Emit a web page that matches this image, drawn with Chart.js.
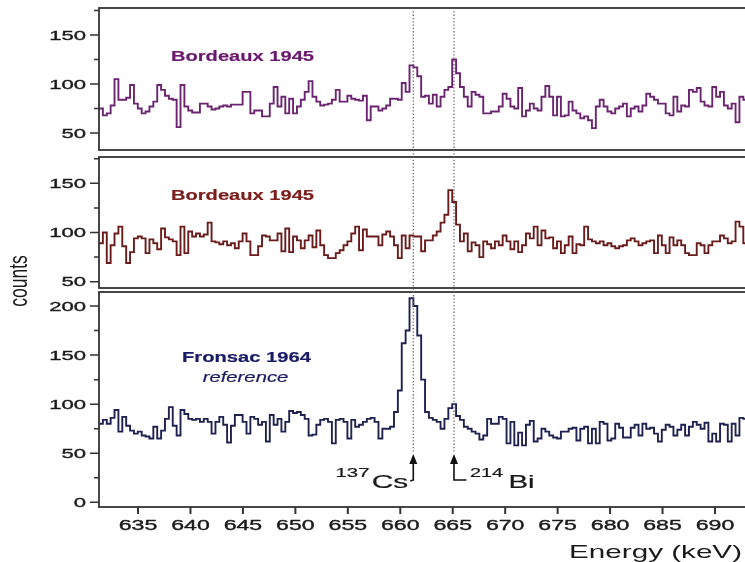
<!DOCTYPE html>
<html>
<head>
<meta charset="utf-8">
<script src="https://cdn.jsdelivr.net/npm/chart.js@4.4.0/dist/chart.umd.min.js"></script>
<style>
  html, body { margin: 0; padding: 0; background: #fff; overflow: hidden; width: 745px; height: 562px; }
  canvas { position: absolute; left: 0; top: 0; }
</style>
</head>
<body>
<canvas id="panelTop" width="760" height="562"></canvas>
<canvas id="panelMid" width="760" height="562"></canvas>
<canvas id="panelBot" width="760" height="562"></canvas>
<script>
// bins of the gamma spectra (keV)
const binStart = 631.28;
const binWidth = 0.37;

// counts per bin, Bordeaux 1945 (first measurement)
const bordeauxA = [
  75, 68, 70, 78, 105, 84, 84, 86, 99, 80,
  75, 70, 72, 77, 82, 99, 94, 88, 85, 84,
  56, 99, 77, 73, 71, 71, 80, 80, 77, 74,
  75, 77, 78, 77, 79, 79, 79, 92, 92, 70,
  73, 73, 67, 67, 80, 97, 77, 87, 70, 85,
  70, 77, 84, 92, 103, 87, 82, 78, 79, 80,
  84, 94, 82, 82, 88, 85, 84, 83, 88, 63,
  77, 77, 73, 75, 78, 85, 85, 84, 101, 92,
  119, 117, 108, 87, 88, 80, 89, 77, 87, 94,
  97, 125, 111, 97, 87, 77, 92, 89, 87, 70,
  70, 72, 72, 77, 90, 85, 77, 75, 96, 67,
  73, 80, 75, 73, 87, 98, 87, 68, 87, 67,
  68, 82, 73, 70, 65, 67, 63, 55, 77, 84,
  77, 72, 70, 75, 77, 80, 67, 75, 77, 72,
  78, 90, 87, 84, 80, 80, 70, 68, 87, 72,
  78, 77, 94, 92, 96, 82, 78, 77, 97, 87,
  92, 78, 75, 80, 61, 87, 84
];

// counts per bin, Bordeaux 1945 (second measurement)
const bordeauxB = [
  89, 100, 69, 87, 99, 106, 86, 69, 80, 94,
  96, 94, 79, 93, 89, 83, 104, 95, 93, 91,
  77, 106, 79, 101, 96, 99, 96, 98, 110, 91,
  90, 88, 91, 87, 89, 84, 91, 99, 91, 77,
  77, 86, 97, 96, 92, 92, 99, 81, 104, 80,
  96, 92, 84, 92, 97, 85, 102, 87, 77, 74,
  74, 79, 82, 87, 91, 99, 106, 82, 103, 96,
  96, 96, 87, 98, 101, 96, 87, 74, 97, 84,
  97, 96, 96, 81, 92, 92, 97, 101, 110, 118,
  143, 131, 108, 91, 99, 81, 90, 87, 75, 91,
  88, 84, 91, 87, 97, 91, 83, 91, 80, 87,
  99, 94, 106, 87, 102, 94, 95, 84, 91, 79,
  87, 96, 79, 88, 87, 106, 93, 91, 89, 91,
  87, 89, 86, 84, 86, 87, 92, 94, 91, 87,
  89, 91, 92, 79, 97, 87, 79, 95, 87, 92,
  87, 79, 77, 77, 89, 87, 79, 87, 91, 91,
  97, 94, 89, 91, 111, 106, 89
];

// counts per bin, Fronsac 1964 reference
const fronsac = [
  80, 84, 80, 86, 94, 72, 87, 78, 73, 70,
  72, 68, 67, 65, 77, 65, 73, 85, 97, 78,
  68, 94, 90, 85, 84, 85, 82, 85, 82, 70,
  82, 87, 79, 61, 78, 89, 89, 82, 70, 87,
  85, 79, 82, 62, 89, 79, 85, 72, 82, 93,
  91, 92, 89, 85, 68, 69, 79, 84, 85, 82,
  60, 84, 85, 82, 65, 84, 77, 79, 82, 85,
  86, 82, 65, 75, 75, 77, 92, 114, 162, 175,
  208, 200, 170, 125, 92, 86, 84, 82, 75, 85,
  96, 100, 88, 84, 77, 75, 72, 70, 64, 68,
  85, 80, 80, 87, 85, 60, 82, 58, 71, 58,
  79, 83, 62, 65, 75, 72, 68, 66, 65, 72,
  72, 75, 76, 63, 75, 77, 60, 75, 60, 82,
  80, 63, 65, 80, 76, 66, 66, 76, 79, 68,
  80, 75, 76, 70, 62, 74, 79, 77, 68, 74,
  79, 68, 77, 82, 79, 75, 81, 62, 70, 62,
  80, 79, 62, 80, 68, 86, 85
];

// axis ticks
const xTicks = [635, 640, 645, 650, 655, 660, 665, 670, 675, 680, 685, 690];
const yTicksTop = [50, 100, 150];
const yMinorTop = [75, 125, 175];
const yTicksMid = [50, 100, 150];
const yMinorMid = [75, 125, 175];
const yTicksBot = [0, 50, 100, 150, 200];
const yMinorBot = [25, 75, 125, 175];

// peak markers
const csEnergy = 661.24;
const biEnergy = 665.12;

const xMin = 631.28;
const xMax = 694.29;
const axisColor = '#333';
const textColor = '#1a1a1a';
const fontName = '"Liberation Sans", Arial, sans-serif';

function toSteps(values) {
  var pts = values.map(function(v, i) { return { x: binStart + i * binWidth, y: v }; });
  pts.push({ x: binStart + values.length * binWidth, y: values[values.length - 1] });
  return pts;
}

// text drawn with a horizontal stretch factor, slightly outlined to look heavier
function wideText(ctx, str, x, y, font, color, sx, align, weight) {
  ctx.save();
  ctx.font = font;
  ctx.fillStyle = color;
  ctx.strokeStyle = color;
  ctx.textAlign = align || 'left';
  ctx.textBaseline = 'alphabetic';
  ctx.translate(x, y);
  ctx.scale(sx, 1);
  ctx.fillText(str, 0, 0);
  if (weight !== 0) {
    ctx.lineWidth = weight || 0.35;
    ctx.strokeText(str, 0, 0);
  }
  ctx.restore();
}

const panelDecor = {
  id: 'panelDecor',
  afterDraw: function(chart, args, opts) {
    var ctx = chart.ctx;
    var area = chart.chartArea;
    var ys = chart.scales.y;

    // frame
    ctx.save();
    ctx.strokeStyle = axisColor;
    ctx.lineWidth = 1.8;
    ctx.strokeRect(area.left, area.top, area.right - area.left, area.bottom - area.top);

    // y ticks
    ctx.lineWidth = 1.5;
    ctx.beginPath();
    opts.majors.forEach(function(v) {
      var py = ys.getPixelForValue(v);
      ctx.moveTo(area.left - 9, py);
      ctx.lineTo(area.left, py);
    });
    opts.minors.forEach(function(v) {
      var py = ys.getPixelForValue(v);
      ctx.moveTo(area.left - 5, py);
      ctx.lineTo(area.left, py);
    });
    ctx.stroke();
    ctx.restore();

    opts.majors.forEach(function(v) {
      var py = ys.getPixelForValue(v);
      wideText(ctx, String(v), 86, py + 4.7, '13px ' + fontName, textColor, 1.7, 'right');
    });

    // panel titles
    opts.titles.forEach(function(t) {
      wideText(ctx, t.text, t.x, t.y, t.font + ' ' + fontName, t.color, t.sx, 'center', 0.2);
    });

    if (opts.bottom) drawBottomExtras(chart);
  }
};

function drawBottomExtras(chart) {
  var ctx = chart.ctx;
  var area = chart.chartArea;
  var xs = chart.scales.x;

  // x ticks and labels
  ctx.save();
  ctx.strokeStyle = axisColor;
  ctx.lineWidth = 2;
  ctx.beginPath();
  xTicks.forEach(function(v) {
    var px = xs.getPixelForValue(v);
    ctx.moveTo(px, area.bottom);
    ctx.lineTo(px, area.bottom + 7);
  });
  ctx.stroke();
  ctx.restore();
  xTicks.forEach(function(v) {
    wideText(ctx, String(v), xs.getPixelForValue(v), 529.5, '14px ' + fontName, textColor, 1.65, 'center');
  });

  wideText(ctx, 'Energy (keV)', 742, 558, '19px ' + fontName, textColor, 1.56, 'right', 0);

  // y axis title
  ctx.save();
  ctx.translate(20, 281);
  ctx.rotate(-Math.PI / 2);
  ctx.scale(1, 1.45);
  ctx.font = '17.5px ' + fontName;
  ctx.fillStyle = textColor;
  ctx.textAlign = 'center';
  ctx.textBaseline = 'middle';
  ctx.fillText('counts', 0, 0);
  ctx.restore();

  // dotted peak lines through all panels
  var csX = xs.getPixelForValue(csEnergy);
  var biX = xs.getPixelForValue(biEnergy);
  ctx.save();
  ctx.strokeStyle = '#666';
  ctx.lineWidth = 1.3;
  ctx.setLineDash([1.3, 2]);
  ctx.beginPath();
  ctx.moveTo(csX, 8); ctx.lineTo(csX, 452);
  ctx.moveTo(biX, 8); ctx.lineTo(biX, 452);
  ctx.stroke();
  ctx.restore();

  // arrows
  ctx.save();
  ctx.strokeStyle = '#111';
  ctx.fillStyle = '#111';
  ctx.lineWidth = 1.6;
  [csX, biX].forEach(function(px) {
    ctx.beginPath();
    ctx.moveTo(px, 454);
    ctx.lineTo(px - 4, 464);
    ctx.lineTo(px + 4, 464);
    ctx.closePath();
    ctx.fill();
  });
  ctx.beginPath();
  ctx.moveTo(csX, 462); ctx.lineTo(csX, 480); ctx.lineTo(csX - 3, 481);
  ctx.moveTo(biX, 462); ctx.lineTo(biX, 480); ctx.lineTo(biX + 12.5, 480);
  ctx.stroke();
  ctx.restore();

  // isotope labels
  wideText(ctx, '137', 352.5, 477, '12px ' + fontName, textColor, 1.7, 'center', 0.2);
  wideText(ctx, 'Cs', 390, 488, '19px ' + fontName, textColor, 1.57, 'center', 0.2);
  wideText(ctx, '214', 486.5, 477, '12px ' + fontName, textColor, 1.65, 'center', 0.2);
  wideText(ctx, 'Bi', 521.5, 488, '19px ' + fontName, textColor, 1.55, 'center', 0.2);
}

function makePanel(canvasId, values, color, yMin, yMax, padTop, padBottom, decor) {
  return new Chart(document.getElementById(canvasId), {
    type: 'line',
    data: {
      datasets: [{
        data: toSteps(values),
        borderColor: color,
        borderWidth: 1.9,
        pointRadius: 0,
        stepped: true,
        fill: false
      }]
    },
    options: {
      responsive: false,
      animation: false,
      devicePixelRatio: 1,
      events: [],
      layout: { padding: { left: 99, right: 0, top: padTop, bottom: padBottom } },
      plugins: {
        legend: { display: false },
        tooltip: { enabled: false },
        panelDecor: decor
      },
      scales: {
        x: { type: 'linear', min: xMin, max: xMax, display: false },
        y: { type: 'linear', min: yMin, max: yMax, display: false }
      }
    },
    plugins: [panelDecor]
  });
}

makePanel('panelTop', bordeauxA, '#6b2470', 32.65, 177.6, 8, 412, {
  majors: yTicksTop, minors: yMinorTop,
  titles: [{ text: 'Bordeaux 1945', x: 242.5, y: 61, font: 'bold 15px', color: '#6a1a6e', sx: 1.34 }]
});

makePanel('panelMid', bordeauxB, '#6a1c1c', 43.6, 176.7, 157, 274, {
  majors: yTicksMid, minors: yMinorMid,
  titles: [{ text: 'Bordeaux 1945', x: 242.5, y: 200, font: 'bold 15px', color: '#7b1e1e', sx: 1.34 }]
});

makePanel('panelBot', fronsac, '#1f2250', -4.79, 214.3, 292, 55, {
  majors: yTicksBot, minors: yMinorBot, bottom: true,
  titles: [
    { text: 'Fronsac 1964', x: 246.5, y: 362, font: 'bold 15px', color: '#1a1c66', sx: 1.345 },
    { text: 'reference', x: 245.5, y: 381.5, font: 'italic 15px', color: '#1a1c66', sx: 1.35 }
  ]
});
</script>
</body>
</html>
